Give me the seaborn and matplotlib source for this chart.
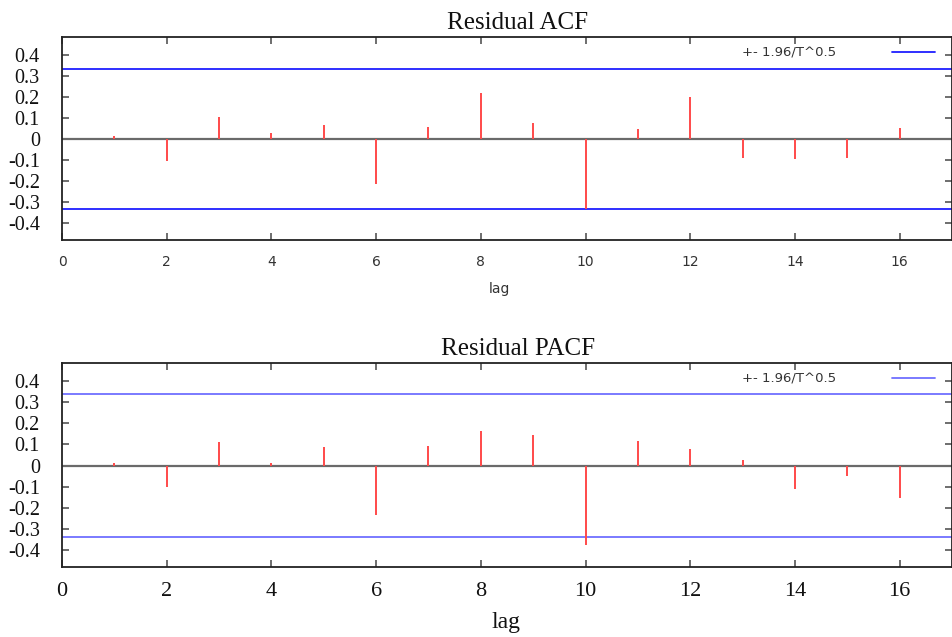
import numpy as np
import pandas as pd
import seaborn as sns
import matplotlib.pyplot as plt

# values
lags = list(range(1, 17))
acf_vals = [0.014, -0.104, 0.107, 0.027, 0.065, -0.214, 0.057, 0.220,
            0.077, -0.332, 0.050, 0.198, -0.090, -0.094, -0.091, 0.053]
pacf_vals = [0.014, -0.103, 0.111, 0.013, 0.089, -0.236, 0.092, 0.165,
             0.146, -0.374, 0.114, 0.079, 0.024, -0.111, -0.049, -0.155]
acf_band = 0.333
pacf_band = 0.336
band_label = "+- 1.96/T^0.5"
x_ticks = [0, 2, 4, 6, 8, 10, 12, 14, 16]
y_ticks = [-0.4, -0.3, -0.2, -0.1, 0, 0.1, 0.2, 0.3, 0.4]
y_tick_labels = ["-0.4", "-0.3", "-0.2", "-0.1", "0", "0.1", "0.2", "0.3", "0.4"]

df = pd.DataFrame({"lag": lags, "acf": acf_vals, "pacf": pacf_vals})

sns.set_style("ticks")
serif = ["Liberation Serif", "DejaVu Serif"]
sans = ["DejaVu Sans"]

fig = plt.figure(figsize=(9.52, 6.37), dpi=100)
ax1 = fig.add_axes([62 / 952, 1 - 240 / 637, 1 - 62 / 952, (240 - 37) / 637])
ax2 = fig.add_axes([62 / 952, 1 - 567 / 637, 1 - 62 / 952, (567 - 363) / 637])


def draw_panel(ax, col, band, band_color, title, small_x):
    ax.axhline(0, color="#6a6a6a", lw=1.6, zorder=1)
    ax.axhline(band, color=band_color, lw=1.3, label=band_label, zorder=2)
    ax.axhline(-band, color=band_color, lw=1.3, zorder=2)
    ax.vlines(df["lag"], 0, df[col], color="#ff4a4a", lw=1.4, zorder=3)
    ax.set_xlim(0, 17)
    ax.set_ylim(-0.48, 0.485)
    ax.set_xticks(x_ticks)
    ax.set_yticks(y_ticks)
    ax.set_yticklabels(y_tick_labels, family=serif, fontsize=14.5, color="#111111")
    ax.tick_params(direction="in", top=True, right=True, length=5,
                   width=1.2, color="#555555")
    ax.tick_params(axis="y", pad=16)
    for s in ax.spines.values():
        s.set_color("#222222")
        s.set_linewidth(1.3)
    if small_x:
        ax.set_xticklabels([str(t) for t in x_ticks], family=sans,
                           fontsize=10, color="#333333")
        ax.tick_params(axis="x", pad=11)
        ax.set_xlabel("lag", family=sans, fontsize=10, color="#333333",
                      labelpad=9, x=(499 - 62) / 890)
    else:
        ax.set_xticklabels([str(t) for t in x_ticks], family=serif,
                           fontsize=16, color="#111111")
        ax.tick_params(axis="x", pad=11)
        ax.set_xlabel("lag", family=serif, fontsize=17, color="#111111",
                      labelpad=8, x=(506 - 62) / 890)
    ax.set_title(title, family=serif, fontsize=18, color="#111111",
                 x=(518 - 62) / 890, pad=6)
    ax.legend(loc="upper right", bbox_to_anchor=(0.981, 0.955),
              frameon=False, markerfirst=False,
              handlelength=3.3, handletextpad=4.2, fontsize=9.5,
              borderpad=0, borderaxespad=0, labelcolor="#333333")


draw_panel(ax1, "acf", acf_band, "#1f1fff", "Residual ACF", True)
draw_panel(ax2, "pacf", pacf_band, "#7070ff", "Residual PACF", False)

fig.savefig("out.png", dpi=100)
